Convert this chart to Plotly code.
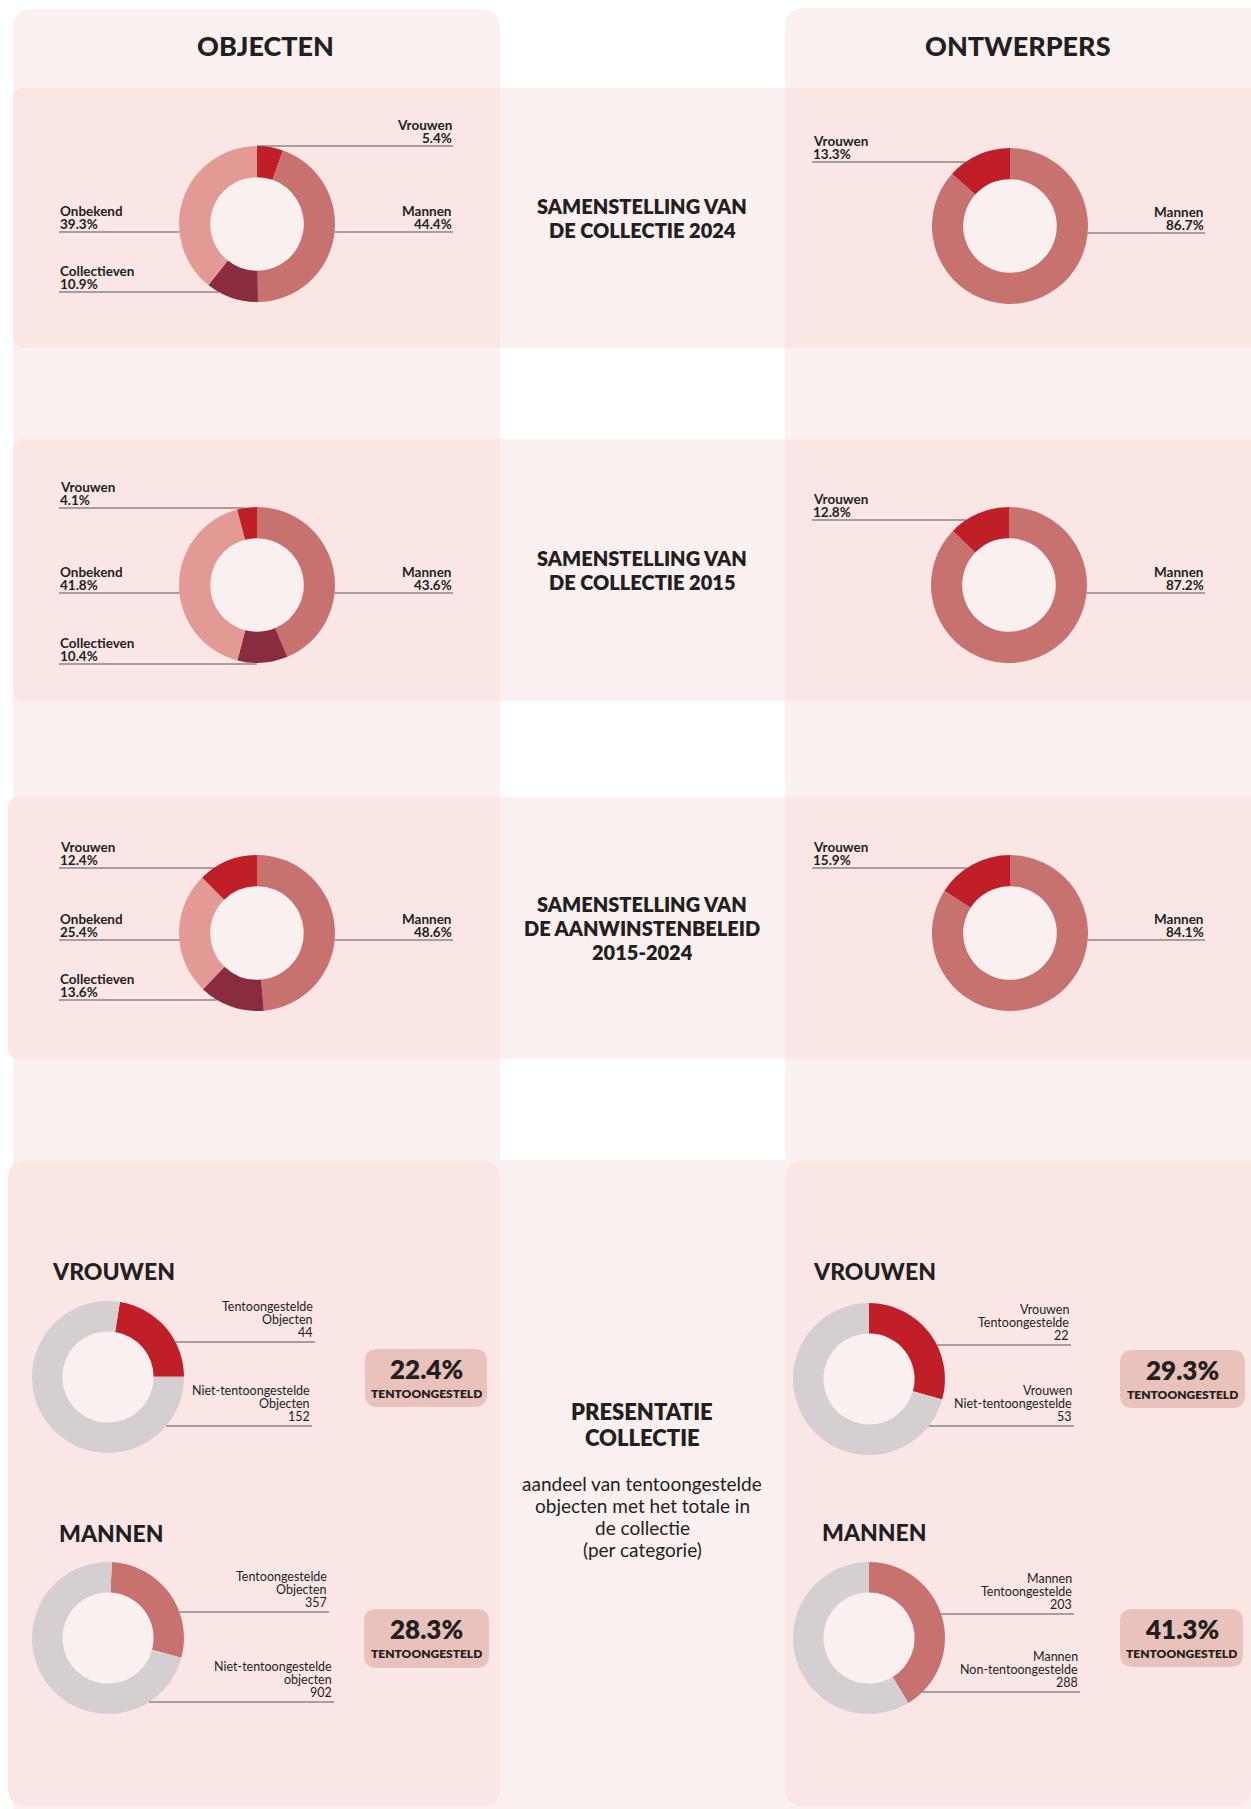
import plotly.graph_objects as go

W, H = 1251, 1809

# ---------------- data ----------------
obj_labels = ["Vrouwen", "Mannen", "Collectieven", "Onbekend"]
obj_2024 = [5.4, 44.4, 10.9, 39.3]
obj_2015 = [4.1, 43.6, 10.4, 41.8]
obj_2015_2024 = [12.4, 48.6, 13.6, 25.4]

ontw_labels = ["Vrouwen", "Mannen"]
ontw_2024 = [13.3, 86.7]
ontw_2015 = [12.8, 87.2]
ontw_2015_2024 = [15.9, 84.1]

column_titles = ["OBJECTEN", "ONTWERPERS"]
row_titles = [
    ["SAMENSTELLING VAN", "DE COLLECTIE 2024"],
    ["SAMENSTELLING VAN", "DE COLLECTIE 2015"],
    ["SAMENSTELLING VAN", "DE AANWINSTENBELEID", "2015-2024"],
]

pres_title = ["PRESENTATIE", "COLLECTIE"]
pres_subtitle = ["aandeel van tentoongestelde", "objecten met het totale in", "de collectie", "(per categorie)"]
pres_groups = ["VROUWEN", "MANNEN", "VROUWEN", "MANNEN"]
pres_counts = [[44, 152], [357, 902], [22, 53], [203, 288]]
pres_labels = [
    [["Tentoongestelde", "Objecten"], ["Niet-tentoongestelde", "Objecten"]],
    [["Tentoongestelde", "Objecten"], ["Niet-tentoongestelde", "objecten"]],
    [["Vrouwen", "Tentoongestelde"], ["Vrouwen", "Niet-tentoongestelde"]],
    [["Mannen", "Tentoongestelde"], ["Mannen", "Non-tentoongestelde"]],
]
pres_pct = ["22.4%", "28.3%", "29.3%", "41.3%"]
pres_pct_label = "TENTOONGESTELD"

# ---------------- styles ----------------
FONT = "Lato, 'Noto Sans', sans-serif"
INK = "#231F20"
PANEL = "#F9F0EF"
BAND = "#F9E6E5"
HOLE = "#F9F0EF"
BOX = "#E8C2BB"
LEADER = "#5A5556"
COLORS = {"Vrouwen": "#C01F28", "Mannen": "#C87270", "Collectieven": "#8A2C40", "Onbekend": "#E39A95"}
SHOWN = ["#C01F28", "#C87270", "#C01F28", "#C87270"]
GREY = "#D6CFD1"

fig = go.Figure()
shapes = []
annotations = []


def rrect(x0, y0, x1, y1, r, tl=True, tr=True, br=True, bl=True):
    p = f"M{x0 + (r if tl else 0)},{y0} L{x1 - (r if tr else 0)},{y0} "
    if tr:
        p += f"Q{x1},{y0} {x1},{y0 + r} "
    p += f"L{x1},{y1 - (r if br else 0)} "
    if br:
        p += f"Q{x1},{y1} {x1 - r},{y1} "
    p += f"L{x0 + (r if bl else 0)},{y1} "
    if bl:
        p += f"Q{x0},{y1} {x0},{y1 - r} "
    p += f"L{x0},{y0 + (r if tl else 0)} "
    if tl:
        p += f"Q{x0},{y0} {x0 + r},{y0} "
    return p + "Z"


def bg(path, color):
    shapes.append(dict(type="path", path=path, xref="x", yref="y", layer="below",
                       fillcolor=color, line=dict(width=0)))


def text(x, y, s, size, weight=400, xanchor="center", box_h=None):
    ann = dict(x=x, y=y, xref="x", yref="y", text=s, showarrow=False,
               xanchor=xanchor, yanchor="middle",
               font=dict(family=FONT, size=size, weight=weight, color=INK))
    if box_h:
        # tight line spacing: keep the text box no taller than the line pitch
        ann.update(height=box_h, borderpad=0, valign="middle")
    annotations.append(ann)


def leader(x0, x1, y, color=LEADER):
    shapes.append(dict(type="line", xref="x", yref="y", x0=x0, x1=x1, y0=y, y1=y,
                       line=dict(color=color, width=1.2)))


def donut(values, labels, colors, cx, cy, r, rotation=0):
    fig.add_trace(go.Pie(
        values=values, labels=labels, hole=0.6, sort=False, direction="clockwise",
        rotation=rotation, marker=dict(colors=colors, line=dict(width=0)),
        textinfo="none", showlegend=False,
        hovertemplate="%{label}: %{value}<extra></extra>",
        domain=dict(x=[(cx - r) / W, (cx + r) / W], y=[1 - (cy + r) / H, 1 - (cy - r) / H]),
    ))
    shapes.append(dict(type="circle", xref="x", yref="y", layer="below",
                       x0=cx - r + 3, x1=cx + r - 3, y0=cy - r + 3, y1=cy + r - 3,
                       fillcolor=HOLE, line=dict(width=0)))


def edge_x(cx, r, dy, side):
    dx = max(r * r - dy * dy, 0) ** 0.5
    return cx + dx if side == "r" else cx - dx


# ---------------- backgrounds ----------------
bg(rrect(13, 9, 500, 1820, 20, br=False, bl=False), PANEL)
bg(rrect(785, 8, 1270, 1820, 20, tr=False, br=False, bl=False), PANEL)
for y0, y1, x0 in [(88, 348, 13), (439, 701, 13), (797, 1059, 8)]:
    bg(rrect(x0, y0, 500, y1, 12, tr=False, br=False), BAND)
    bg(rrect(500, y0, 785, y1, 0), PANEL)
    bg(rrect(785, y0, 1270, y1, 0), BAND)
bg(rrect(500, 1160, 785, 1820, 0), PANEL)
bg(rrect(8, 1161, 500, 1806, 18), BAND)
bg(rrect(785, 1161, 1251, 1806, 18, tr=False), BAND)

# ---------------- column and row titles ----------------
text(265, 45, column_titles[0], 27, 900)
text(1018, 45, column_titles[1], 27, 900)
for lines, ys in zip(row_titles, [[206, 230], [558, 582], [904, 928, 952]]):
    for s, y in zip(lines, ys):
        text(642, y, s, 20, 800)

# ---------------- composition donuts ----------------
R = 78
obj_charts = [
    (obj_2024, [0, 1, 2, 3], (257, 224),
     {"Vrouwen": ("r", -78), "Mannen": ("r", 8), "Onbekend": ("l", 8), "Collectieven": ("l", 68)}),
    (obj_2015, [1, 2, 3, 0], (257, 585),
     {"Vrouwen": ("l", -77), "Mannen": ("r", 8), "Onbekend": ("l", 8), "Collectieven": ("l", 79)}),
    (obj_2015_2024, [1, 2, 3, 0], (257, 933),
     {"Vrouwen": ("l", -65), "Mannen": ("r", 7), "Onbekend": ("l", 7), "Collectieven": ("l", 67)}),
]
ontw_charts = [
    (ontw_2024, [1, 0], (1010, 226), {"Vrouwen": ("l", -64), "Mannen": ("r", 7)}),
    (ontw_2015, [1, 0], (1009, 585), {"Vrouwen": ("l", -65), "Mannen": ("r", 8)}),
    (ontw_2015_2024, [1, 0], (1010, 933), {"Vrouwen": ("l", -65), "Mannen": ("r", 7)}),
]

for charts, labels, (xl, xr) in [(obj_charts, obj_labels, (59, 453)),
                                  (ontw_charts, ontw_labels, (812, 1205))]:
    for values, order, (cx, cy), spots in charts:
        lab = [labels[i] for i in order]
        donut([values[i] for i in order], lab, [COLORS[l] for l in lab], cx, cy, R)
        for i, name in enumerate(labels):
            side, dy = spots[name]
            ly = cy + dy
            ex = edge_x(cx, R, dy, side)
            if side == "r":
                leader(ex, xr, ly)
                tx, anchor = xr, "right"
            else:
                leader(xl, ex, ly)
                tx, anchor = xl, "left"
            text(tx, ly - 22, name, 13.5, 700, anchor, box_h=13)
            text(tx, ly - 9, f"{values[i]:.1f}%", 13.5, 700, anchor, box_h=13)

# ---------------- presentation section ----------------
text(642, 1411, pres_title[0], 22, 800)
text(642, 1437, pres_title[1], 22, 800)
for s, y in zip(pres_subtitle, [1483, 1505, 1527, 1549]):
    text(642, y, s, 19, 400, box_h=22)

pres_layout = [
    # centre, rotation, heading pos, leader (dy, x_end) pairs, box
    dict(c=(108, 1377), rot=9, head=(50, 1271), lead=[(-35, 315), (49, 312)], box=(365, 1349, 487, 1407)),
    dict(c=(108, 1638), rot=3, head=(57, 1533), lead=[(-26, 329), (64, 334)], box=(364, 1609, 489, 1668)),
    dict(c=(869, 1379), rot=0, head=(811, 1271), lead=[(-34, 1071), (47, 1074)], box=(1120, 1350, 1245, 1408)),
    dict(c=(869, 1638), rot=0, head=(820, 1532), lead=[(-24, 1074), (54, 1080)], box=(1120, 1609, 1243, 1667)),
]
RP = 76
for k, spec in enumerate(pres_layout):
    cx, cy = spec["c"]
    counts = pres_counts[k]
    names = [" ".join(p) for p in pres_labels[k]]
    donut(counts, names, [SHOWN[k], GREY], cx, cy, RP, spec["rot"])
    text(spec["head"][0], spec["head"][1], pres_groups[k], 23, 900, "left")
    for (dy, xe), lines, n in zip(spec["lead"], pres_labels[k], counts):
        ly = cy + dy
        leader(edge_x(cx, RP, dy, "r"), xe, ly)
        for s, off in zip(lines + [str(n)], [-36, -23, -10]):
            text(xe - 1, ly + off, s, 12.5, 400, "right", box_h=13)
    bx0, by0, bx1, by1 = spec["box"]
    bg(rrect(bx0, by0, bx1, by1, 13), BOX)
    text((bx0 + bx1) / 2, by0 + 20, pres_pct[k], 26, 800, box_h=24)
    text((bx0 + bx1) / 2, by0 + 44, pres_pct_label, 12, 800, box_h=14)

fig.update_layout(
    width=W, height=H, margin=dict(l=0, r=0, t=0, b=0),
    paper_bgcolor="white", plot_bgcolor="white", template="none",
    xaxis=dict(range=[0, W], visible=False, fixedrange=True),
    yaxis=dict(range=[H, 0], visible=False, fixedrange=True),
    shapes=shapes, annotations=annotations,
)

fig.write_html("out.html", config={"displayModeBar": False},
               post_script="document.body.style.margin='0';")
